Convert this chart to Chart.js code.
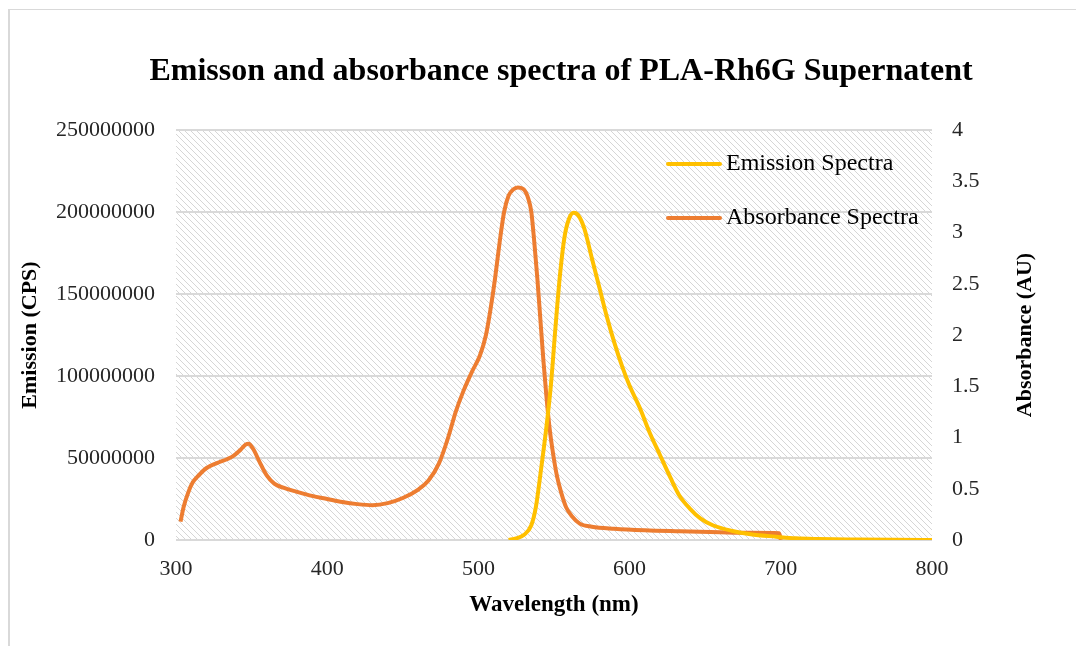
<!DOCTYPE html>
<html>
<head>
<meta charset="utf-8">
<script src="https://cdn.jsdelivr.net/npm/chart.js@4"></script>
<style>
    body { margin: 0; background: #fff; }
    #frame { position: absolute; left: 8px; top: 9px; width: 1200px; height: 800px; border-left: 2px solid #d9d9d9; border-top: 1px solid #d9d9d9; }
    #wrap { position: absolute; left: 0; top: 0; width: 1076px; height: 646px; }
</style>
</head>
<body>
<div id="frame"></div>
<div id="wrap"><canvas id="spectra" width="1076" height="646"></canvas></div>
<script>
// ===== data =====
const emWl  = [520, 525, 530, 535, 538, 541, 545, 548, 551, 554, 557, 560, 563, 566, 570, 575, 580, 585, 590, 595, 600, 607, 613, 620, 627, 633, 640, 647, 655, 668, 680, 697, 710, 725, 750, 775, 800];
const emVal = [0, 1e6, 3e6, 9e6, 20e6, 40e6, 69e6, 95e6, 130e6, 162e6, 185e6, 196e6, 199.5e6, 198e6, 190e6, 172e6, 154e6, 136e6, 120e6, 106e6, 94e6, 80e6, 66e6, 52e6, 38e6, 27e6, 19e6, 13e6, 9e6, 5.5e6, 3.5e6, 2e6, 1e6, 0.6e6, 0.3e6, 0.1e6, 0];

const absWl  = [303, 305, 308, 311, 315, 320, 327, 334, 338, 342, 346, 348, 351, 355, 360, 365, 371, 380, 390, 400, 410, 420, 430, 440, 450, 460, 467, 474, 480, 485, 490, 496, 501, 505, 508, 511, 514, 517, 520, 523, 526, 530, 533, 535, 537, 539, 541, 543, 545, 547, 549, 552, 555, 558, 562, 567, 575, 590, 610, 633, 660, 680, 699, 700];
const absVal = [0.18, 0.32, 0.46, 0.56, 0.63, 0.70, 0.75, 0.79, 0.82, 0.87, 0.93, 0.94, 0.89, 0.77, 0.63, 0.55, 0.51, 0.47, 0.43, 0.40, 0.37, 0.35, 0.34, 0.36, 0.41, 0.49, 0.58, 0.75, 1.0, 1.25, 1.45, 1.65, 1.8, 2.0, 2.25, 2.55, 2.9, 3.2, 3.36, 3.42, 3.44, 3.42, 3.33, 3.2, 2.9, 2.55, 2.15, 1.75, 1.4, 1.1, 0.88, 0.62, 0.45, 0.32, 0.23, 0.16, 0.13, 0.11, 0.095, 0.085, 0.075, 0.07, 0.066, 0];

const xTicks = [300, 400, 500, 600, 700, 800];
const chartTitle = "Emisson and absorbance spectra of PLA-Rh6G Supernatent";
const serif = "'Times New Roman', 'Liberation Serif', serif";

function toPoints(xs, ys) {
    return xs.map((x, i) => ({ x: x, y: ys[i] }));
}

// hatched background
function makeHatch() {
    const c = document.createElement("canvas");
    c.width = 6; c.height = 6;
    const g = c.getContext("2d");
    g.strokeStyle = "#d6d6d6";
    g.lineWidth = 1;
    g.beginPath();
    g.moveTo(-1, -1); g.lineTo(7, 7);
    g.moveTo(-1, 5); g.lineTo(1, 7);
    g.moveTo(5, -1); g.lineTo(7, 1);
    g.stroke();
    return g.createPattern(c, "repeat");
}

const hatchPlugin = {
    id: "hatch",
    beforeDraw(chart) {
        const a = chart.chartArea;
        const ctx = chart.ctx;
        ctx.save();
        ctx.fillStyle = makeHatch();
        ctx.fillRect(a.left, a.top, a.right - a.left, a.bottom - a.top);
        ctx.restore();
    }
};

// title, legend inside plot, right axis title (reads bottom to top)
const extrasPlugin = {
    id: "extras",
    afterDatasetsDraw(chart) {
        const ctx = chart.ctx;
        const a = chart.chartArea;
        ctx.save();
        ctx.fillStyle = "#000";
        ctx.textBaseline = "middle";

        ctx.font = "bold 32px " + serif;
        ctx.textAlign = "center";
        ctx.fillText(chartTitle, 561, 72);

        ctx.font = "24px " + serif;
        ctx.textAlign = "left";
        chart.data.datasets.forEach((ds, i) => {
            const y = a.top + 34 + i * 54;
            const x0 = a.right - 264;
            ctx.strokeStyle = ds.borderColor;
            ctx.lineWidth = 4;
            ctx.lineCap = "round";
            ctx.beginPath();
            ctx.moveTo(x0, y);
            ctx.lineTo(x0 + 52, y);
            ctx.stroke();
            ctx.fillText(ds.label, x0 + 58, y);
        });

        ctx.font = "bold 22px " + serif;
        ctx.textAlign = "center";
        ctx.translate(1025, (a.top + a.bottom) / 2);
        ctx.rotate(-Math.PI / 2);
        ctx.fillText("Absorbance (AU)", 0, 0);
        ctx.restore();
    }
};

const tickFont = { family: serif, size: 22 };
const plain = v => String(v);

new Chart(document.getElementById("spectra"), {
    type: "line",
    data: {
        datasets: [{
            label: "Emission Spectra",
            data: toPoints(emWl, emVal),
            yAxisID: "y",
            borderColor: "#FFC000",
            borderWidth: 4,
            pointRadius: 0,
            cubicInterpolationMode: "monotone",
            fill: false
        }, {
            label: "Absorbance Spectra",
            data: toPoints(absWl, absVal),
            yAxisID: "y2",
            borderColor: "#ED7D31",
            borderWidth: 4,
            pointRadius: 0,
            cubicInterpolationMode: "monotone",
            fill: false
        }]
    },
    options: {
        responsive: false,
        animation: false,
        layout: { padding: { top: 130, left: 0, right: 0, bottom: 0 } },
        plugins: {
            legend: { display: false },
            tooltip: { enabled: false },
            title: { display: false }
        },
        scales: {
            x: {
                type: "linear",
                min: 300,
                max: 800,
                afterBuildTicks: s => { s.ticks = xTicks.map(v => ({ value: v })); },
                afterFit: s => { s.height = 106; },
                grid: { display: false, drawTicks: false },
                border: { display: false },
                ticks: { color: "#262626", font: tickFont, padding: 16, callback: plain },
                title: {
                    display: true,
                    text: "Wavelength (nm)",
                    color: "#000",
                    font: { family: serif, size: 23, weight: "bold" },
                    padding: { bottom: 27 }
                }
            },
            y: {
                position: "left",
                min: 0,
                max: 250000000,
                afterFit: s => { s.width = 176; },
                grid: { color: "#d9d9d9", lineWidth: 2, drawTicks: false },
                border: { display: false },
                ticks: { stepSize: 50000000, color: "#262626", font: tickFont, padding: 21, callback: plain },
                title: {
                    display: true,
                    text: "Emission (CPS)",
                    color: "#000",
                    font: { family: serif, size: 22, weight: "bold" },
                    padding: { top: 17 }
                }
            },
            y2: {
                position: "right",
                min: 0,
                max: 4,
                afterFit: s => { s.width = 144; },
                grid: { display: false, drawTicks: false },
                border: { display: false },
                ticks: { stepSize: 0.5, color: "#262626", font: tickFont, padding: 20, callback: plain }
            }
        }
    },
    plugins: [hatchPlugin, extrasPlugin]
});
</script>
</body>
</html>
